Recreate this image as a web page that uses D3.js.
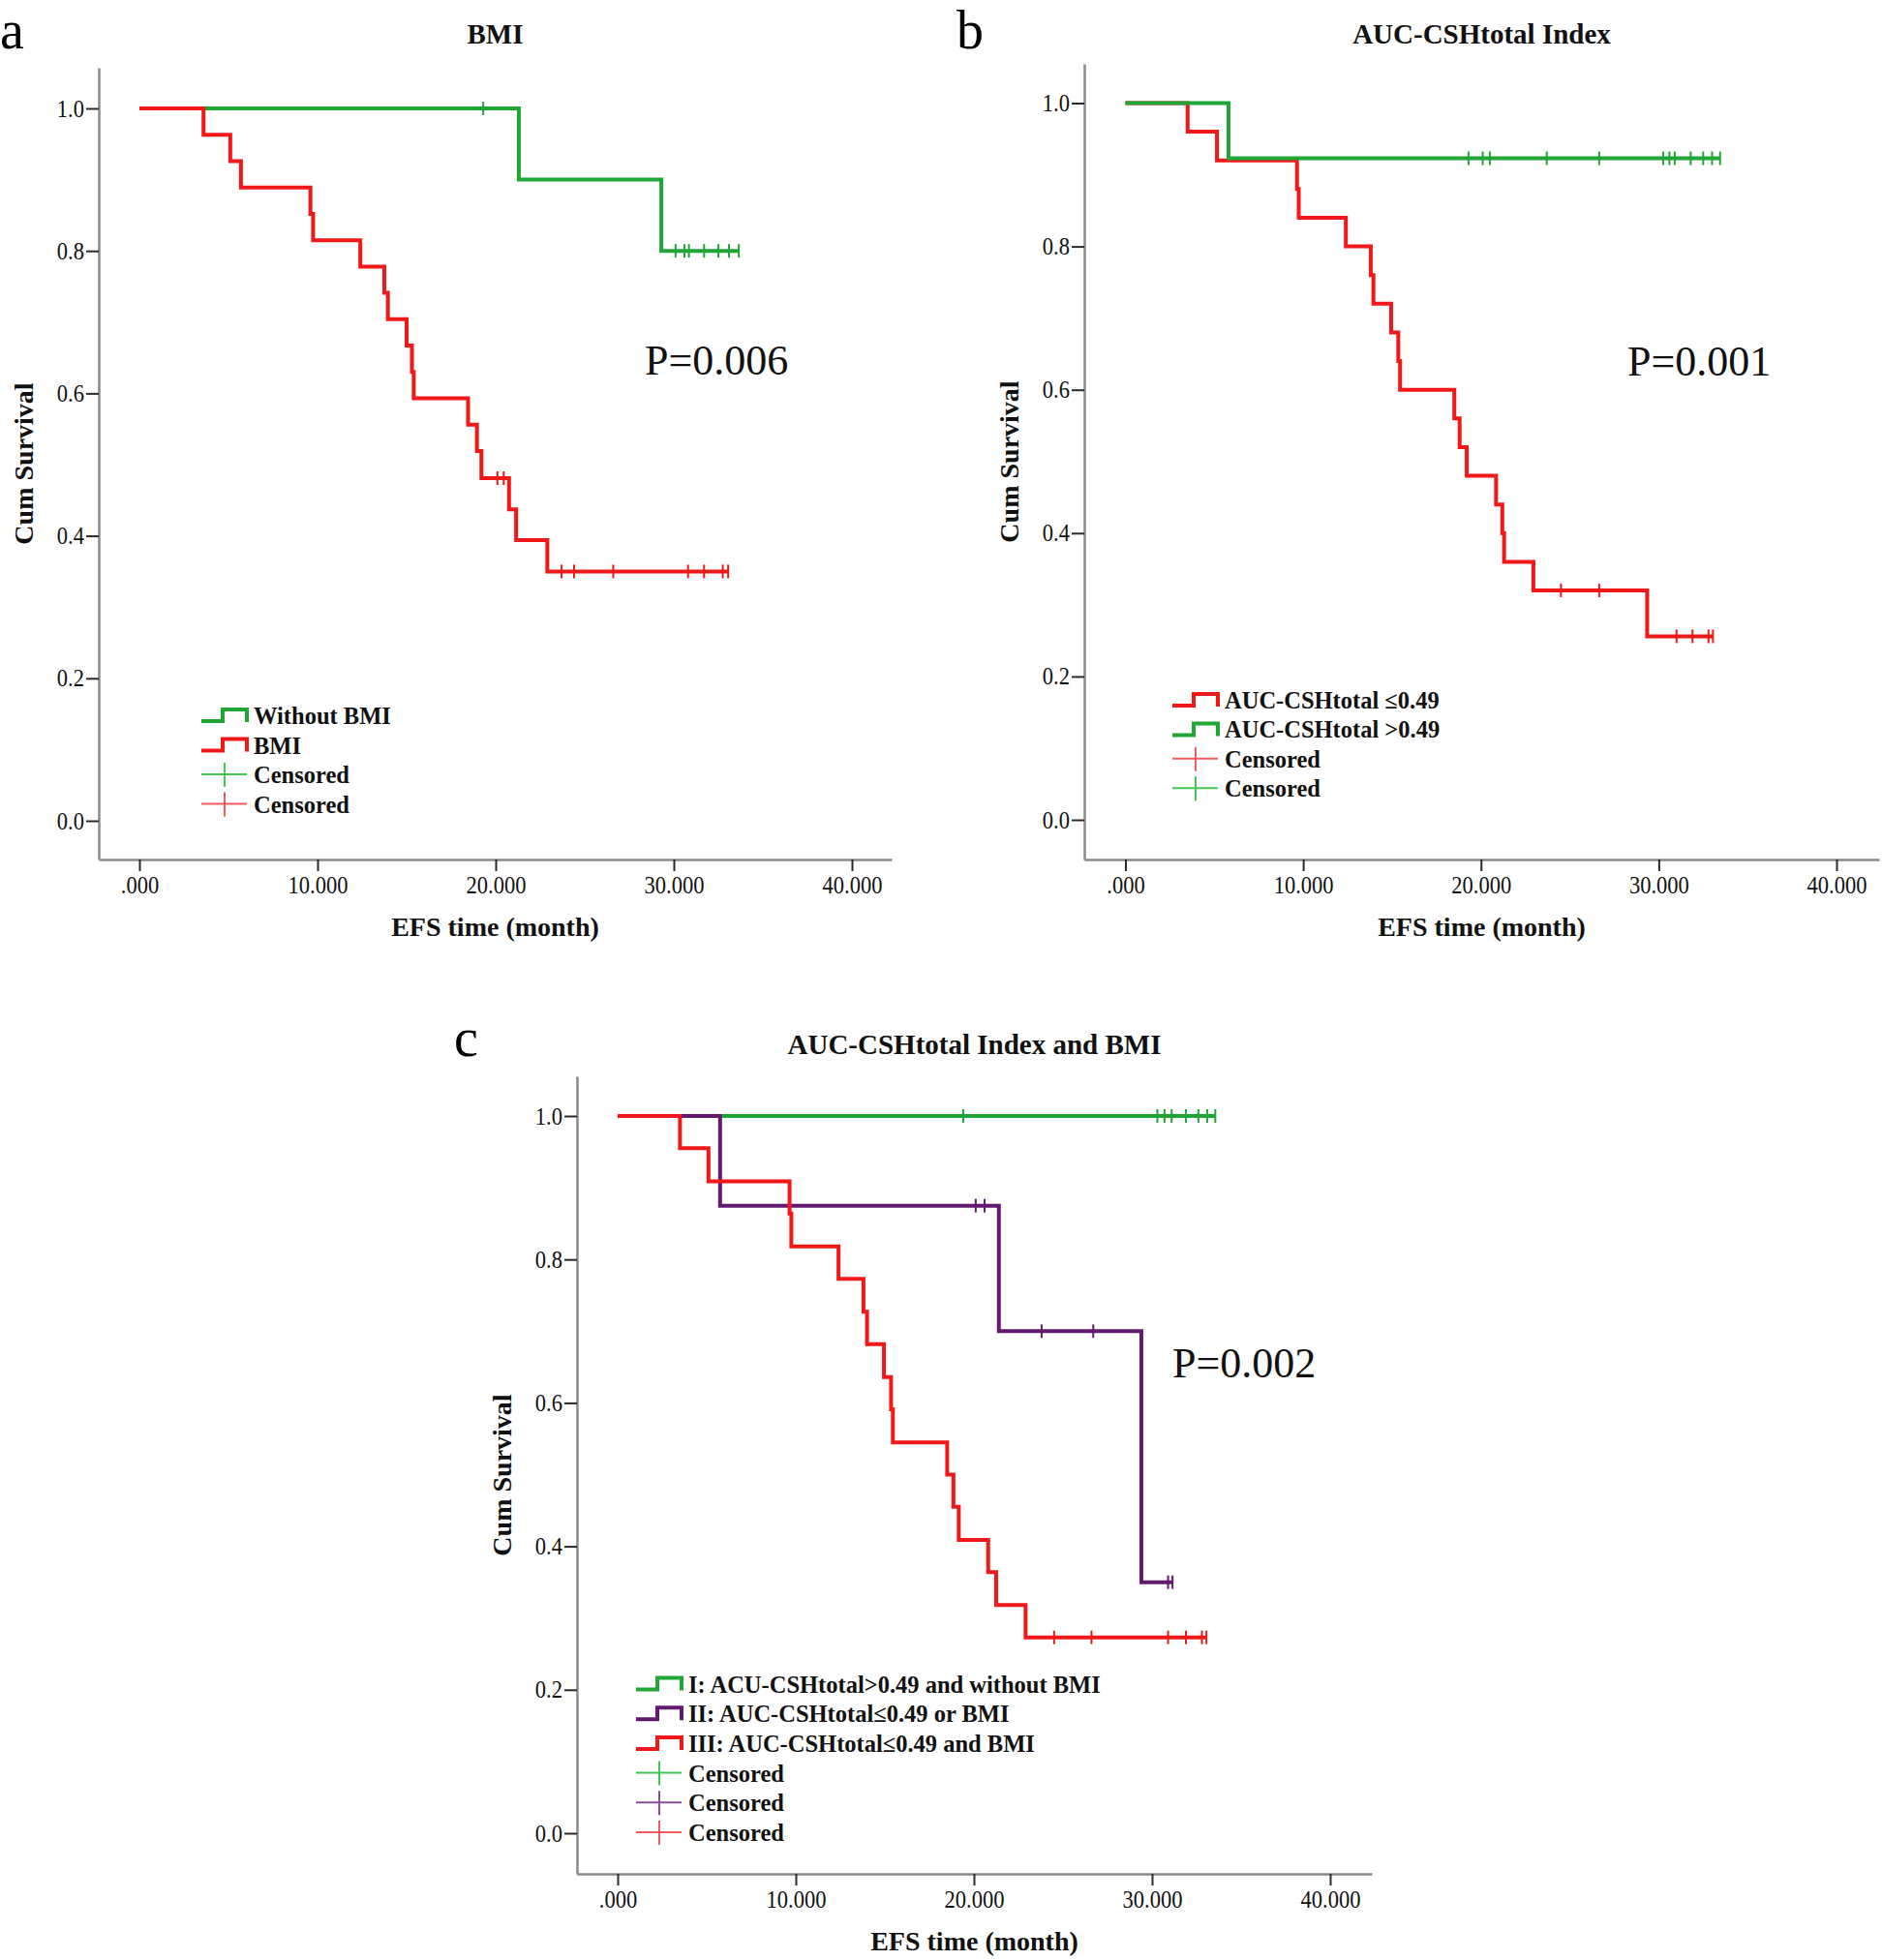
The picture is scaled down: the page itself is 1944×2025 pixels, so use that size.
<!DOCTYPE html>
<html><head><meta charset="utf-8">
<script src="https://cdn.jsdelivr.net/npm/d3@7"></script>
<style>body{margin:0;background:#fff} svg{display:block}</style>
</head><body>
<svg id="chart" width="1944" height="2025"></svg>
<script>
// ---------------- DATA ----------------
const xTicks = [0, 10, 20, 30, 40];
const yTicks = [0, 0.2, 0.4, 0.6, 0.8, 1.0];
const xTickLabels = [".000", "10.000", "20.000", "30.000", "40.000"];
const yTickLabels = ["0.0", "0.2", "0.4", "0.6", "0.8", "1.0"];

// Panel a: BMI
const aWithoutTimes  = [21.3, 29.3];
const aWithoutSurv   = [0.900, 0.800];
const aWithoutCensor = [19.3, 30.1, 30.6, 30.85, 31.7, 32.5, 33.1, 33.65];
const aBmiTimes  = [3.6, 5.1, 5.7, 9.6, 9.75, 12.4, 13.75, 13.95, 15.0, 15.3, 15.4, 18.45, 18.95, 19.2, 20.75, 21.15, 22.9];
const aBmiSurv   = [0.963, 0.926, 0.889, 0.852, 0.815, 0.778, 0.741, 0.704, 0.667, 0.630, 0.593, 0.556, 0.519, 0.481, 0.437, 0.394, 0.350];
const aBmiCensor = [20.1, 20.45, 23.7, 24.4, 26.6, 30.8, 31.7, 32.75, 33.05];

// Panel b: AUC-CSHtotal Index
const bLowTimes  = [3.5, 5.15, 9.65, 9.75, 12.4, 13.8, 13.95, 14.95, 15.35, 15.45, 18.5, 18.8, 19.2, 20.85, 21.2, 21.3, 22.95, 29.35];
const bLowSurv   = [0.96, 0.92, 0.88, 0.84, 0.80, 0.76, 0.72, 0.68, 0.64, 0.60, 0.56, 0.52, 0.48, 0.44, 0.40, 0.36, 0.32, 0.256];
const bLowCensor = [24.5, 26.65, 31.0, 31.9, 32.8, 33.05];
const bHighTimes  = [5.8];
const bHighSurv   = [0.923];
const bHighCensor = [19.3, 20.1, 20.5, 23.7, 26.65, 30.25, 30.6, 30.9, 31.8, 32.5, 33.0, 33.45];

// Panel c: AUC-CSHtotal Index and BMI
const cITimes  = [];
const cISurv   = [];
const cICensor = [19.4, 30.3, 30.7, 31.1, 31.9, 32.6, 33.1, 33.55];
const cIITimes  = [5.75, 21.4, 29.4];
const cIISurv   = [0.875, 0.700, 0.350];
const cIICensor = [20.1, 20.6, 23.8, 26.7, 30.9, 31.15];
const cIIITimes  = [3.5, 5.1, 9.65, 9.75, 12.4, 13.8, 14.0, 14.95, 15.35, 15.45, 18.5, 18.85, 19.15, 20.8, 21.25, 22.9];
const cIIISurv   = [0.955, 0.909, 0.864, 0.818, 0.773, 0.727, 0.682, 0.636, 0.591, 0.545, 0.500, 0.455, 0.409, 0.364, 0.318, 0.273];
const cIIICensor = [24.5, 26.6, 30.9, 31.9, 32.8, 33.05];

const panelLetters = ["a", "b", "c"];
const panelTitles = ["BMI", "AUC-CSHtotal Index", "AUC-CSHtotal Index and BMI"];
const pValues = ["P=0.006", "P=0.001", "P=0.002"];
const aLegendLabels = ["Without BMI", "BMI", "Censored", "Censored"];
const bLegendLabels = ["AUC-CSHtotal \u22640.49", "AUC-CSHtotal >0.49", "Censored", "Censored"];
const cLegendLabels = ["I: ACU-CSHtotal>0.49 and without BMI", "II: AUC-CSHtotal\u22640.49 or BMI", "III: AUC-CSHtotal\u22640.49 and BMI", "Censored", "Censored", "Censored"];
const xLabel = "EFS time (month)";
const yLabel = "Cum Survival";

// ---------------- STYLE / LAYOUT ----------------
const COL = { green: "#1fa637", red: "#f01818", purple: "#621a6e" };
const LIGHT = { green: "#45c457", red: "#f25c5c", purple: "#8c4c97" };
const SERIF = "'Liberation Serif', 'Times New Roman', serif";

const layouts = [
  { axisX: 102, axisTop: 70, axisBottom: 888, axisRight: 921, x0: 144, x40: 880, y1: 112, y0: 848,
    letterX: 0, letterY: 50, titleY: 45, pX: 666, pY: 387, legX: 208, legY: 739, legDy: 30.5 },
  { axisX: 1120, axisTop: 66, axisBottom: 888, axisRight: 1941, x0: 1162.5, x40: 1897, y1: 106.5, y0: 847,
    letterX: 988, letterY: 50, titleY: 45, pX: 1681, pY: 388, legX: 1211, legY: 723, legDy: 30.4 },
  { axisX: 596, axisTop: 1112, axisBottom: 1936, axisRight: 1417, x0: 638, x40: 1374, y1: 1153, y0: 1894,
    letterX: 469, letterY: 1091, titleY: 1089, pX: 1211, pY: 1423, legX: 657, legY: 1739.5, legDy: 30.7 }
];

const panels = [
  { curves: [
      { c: "green", times: aWithoutTimes, surv: aWithoutSurv, censor: aWithoutCensor },
      { c: "red", times: aBmiTimes, surv: aBmiSurv, censor: aBmiCensor } ],
    legend: aLegendLabels, legendKinds: [["step","green"],["step","red"],["cross","green"],["cross","red"]] },
  { curves: [
      { c: "red", times: bLowTimes, surv: bLowSurv, censor: bLowCensor },
      { c: "green", times: bHighTimes, surv: bHighSurv, censor: bHighCensor } ],
    legend: bLegendLabels, legendKinds: [["step","red"],["step","green"],["cross","red"],["cross","green"]] },
  { curves: [
      { c: "green", times: cITimes, surv: cISurv, censor: cICensor },
      { c: "purple", times: cIITimes, surv: cIISurv, censor: cIICensor },
      { c: "red", times: cIIITimes, surv: cIIISurv, censor: cIIICensor } ],
    legend: cLegendLabels, legendKinds: [["step","green"],["step","purple"],["step","red"],["cross","green"],["cross","purple"],["cross","red"]] }
];

const svg = d3.select("#chart");

function kmPoints(times, surv, censor) {
  const pts = [[0, 1]];
  let s = 1;
  times.forEach((t, i) => { pts.push([t, s]); s = surv[i]; pts.push([t, s]); });
  const end = d3.max([times.length ? times[times.length - 1] : 0, ...censor]);
  pts.push([end, s]);
  return pts;
}
function survAt(times, surv, t) {
  let s = 1;
  times.forEach((tt, i) => { if (tt <= t) s = surv[i]; });
  return s;
}

panels.forEach((p, pi) => {
  const L = layouts[pi];
  const xBase = d3.scaleLinear().domain([0, 40]).range([L.x0, L.x40]);
  const yBase = d3.scaleLinear().domain([0, 1]).range([L.y0, L.y1]);
  const x = d3.scaleLinear().domain([xBase.invert(L.axisX), xBase.invert(L.axisRight)]).range([L.axisX, L.axisRight]);
  const y = d3.scaleLinear().domain([yBase.invert(L.axisBottom), yBase.invert(L.axisTop)]).range([L.axisBottom, L.axisTop]);
  const g = svg.append("g");

  // axes
  const xAxis = d3.axisBottom(x).tickValues(xTicks).tickSize(12).tickSizeOuter(0).tickPadding(5)
    .tickFormat((d, i) => xTickLabels[i]);
  const yAxis = d3.axisLeft(y).tickValues(yTicks).tickSize(13).tickSizeOuter(0).tickPadding(3.7)
    .tickFormat((d, i) => yTickLabels[i]);
  const gx = g.append("g").attr("transform", `translate(0,${L.axisBottom})`).call(xAxis);
  const gy = g.append("g").attr("transform", `translate(${L.axisX},0)`).call(yAxis);
  [gx, gy].forEach(ax => {
    ax.select(".domain").attr("stroke", "#8a8a8a").attr("stroke-width", 2.5);
    ax.selectAll(".tick line").attr("stroke", "#2a2a2a").attr("stroke-width", 2);
    ax.selectAll(".tick text").attr("fill", "#111").attr("font-family", SERIF).attr("font-size", 25)
      .attr("transform", "scale(0.9,1)");
  });

  // curves
  p.curves.forEach(cv => {
    const line = d3.line().x(d => x(d[0])).y(d => y(d[1]));
    g.append("path").attr("d", line(kmPoints(cv.times, cv.surv, cv.censor)))
      .attr("fill", "none").attr("stroke", COL[cv.c]).attr("stroke-width", 4)
      .attr("stroke-linejoin", "miter").attr("stroke-linecap", "butt");
    g.selectAll(null).data(cv.censor).enter().append("line")
      .attr("x1", d => x(d)).attr("x2", d => x(d))
      .attr("y1", d => y(survAt(cv.times, cv.surv, d)) - 7)
      .attr("y2", d => y(survAt(cv.times, cv.surv, d)) + 7)
      .attr("stroke", COL[cv.c]).attr("stroke-width", 2);
  });

  // texts
  g.append("text").attr("x", L.letterX).attr("y", L.letterY).attr("font-family", SERIF)
    .attr("font-size", 56).attr("fill", "#000").text(panelLetters[pi]);
  g.append("text").attr("x", (L.axisX + L.axisRight) / 2).attr("y", L.titleY).attr("text-anchor", "middle")
    .attr("font-family", SERIF).attr("font-weight", "bold").attr("font-size", 29).attr("fill", "#111")
    .text(panelTitles[pi]);
  g.append("text").attr("x", (L.axisX + L.axisRight) / 2).attr("y", L.axisBottom + 79).attr("text-anchor", "middle")
    .attr("font-family", SERIF).attr("font-weight", "bold").attr("font-size", 28).attr("fill", "#111")
    .text(xLabel);
  g.append("text").attr("transform", `translate(${L.axisX - 68},${(L.axisTop + L.axisBottom) / 2}) rotate(-90)`)
    .attr("text-anchor", "middle").attr("font-family", SERIF).attr("font-weight", "bold")
    .attr("font-size", 28).attr("fill", "#111").text(yLabel);
  g.append("text").attr("x", L.pX).attr("y", L.pY).attr("font-family", SERIF)
    .attr("font-size", 44).attr("fill", "#111").text(pValues[pi]);

  // legend
  p.legend.forEach((lab, i) => {
    const cy = L.legY + i * L.legDy;
    const [kind, c] = p.legendKinds[i];
    const lx = L.legX;
    if (kind === "step") {
      g.append("path").attr("d", `M${lx},${cy + 6}H${lx + 22}V${cy - 6}H${lx + 47}V${cy + 7}`)
        .attr("fill", "none").attr("stroke", COL[c]).attr("stroke-width", 4).attr("stroke-linejoin", "miter");
    } else {
      g.append("line").attr("x1", lx).attr("x2", lx + 47).attr("y1", cy).attr("y2", cy)
        .attr("stroke", LIGHT[c]).attr("stroke-width", 2);
      g.append("line").attr("x1", lx + 24).attr("x2", lx + 24).attr("y1", cy - 12).attr("y2", cy + 13)
        .attr("stroke", LIGHT[c]).attr("stroke-width", 2);
    }
    g.append("text").attr("x", lx + 54).attr("y", cy + 9).attr("font-family", SERIF)
      .attr("font-weight", "bold").attr("font-size", 24.5).attr("fill", "#111").text(lab);
  });
});
</script>
</body></html>
